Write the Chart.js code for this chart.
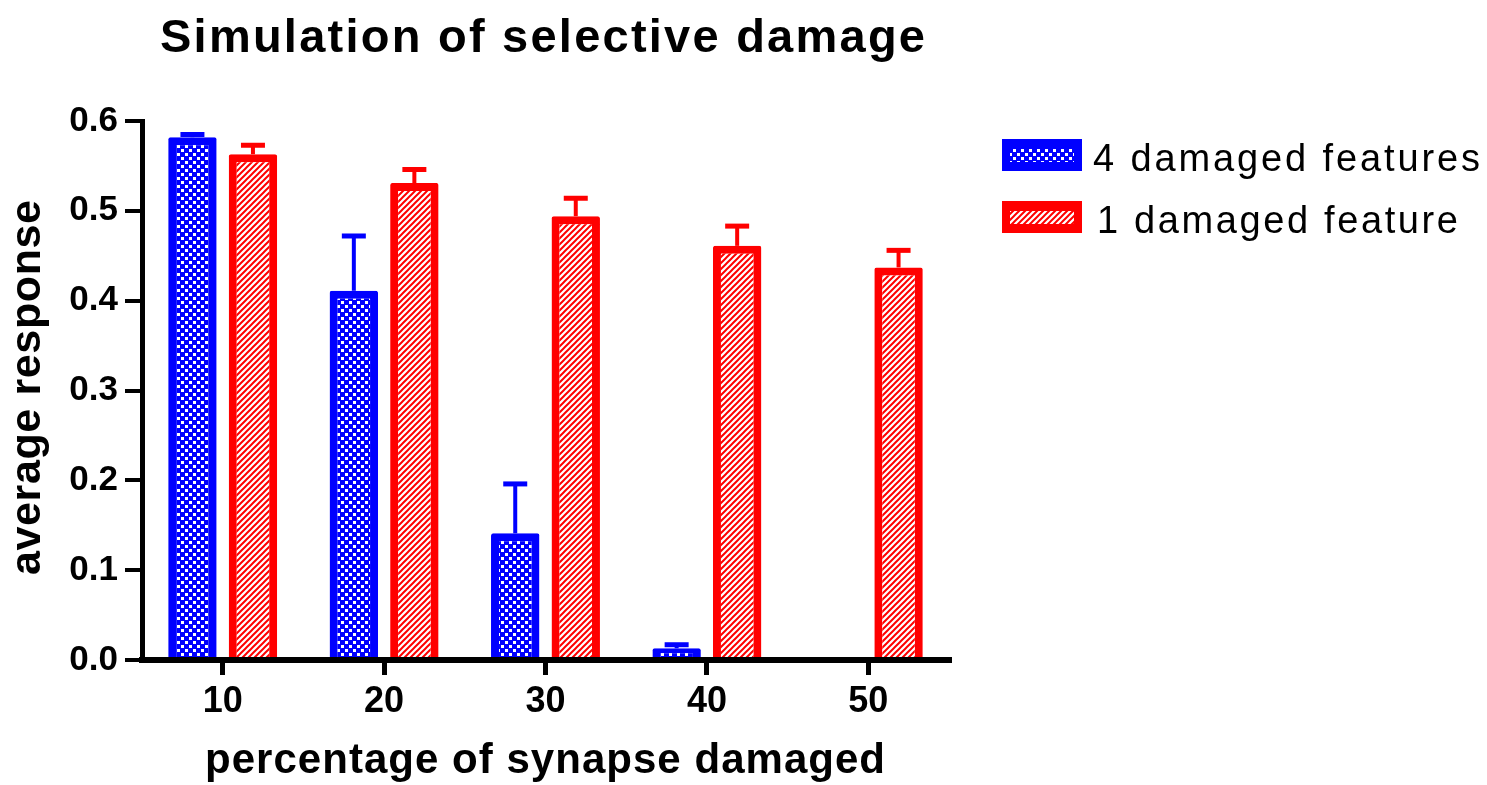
<!DOCTYPE html>
<html><head><meta charset="utf-8">
<script src="https://cdn.jsdelivr.net/npm/chart.js@4.4.1/dist/chart.umd.min.js"></script>
<style>html,body{margin:0;padding:0;background:#fff;overflow:hidden}canvas{display:block}</style>
</head><body>
<canvas id="c" width="1487" height="785"></canvas>
<script>
const categories = ['10', '20', '30', '40', '50'];
const fourDamaged = [0.582, 0.411, 0.141, 0.013, 0];
const fourDamagedErr = [0.003, 0.061, 0.055, 0.004, 0];
const oneDamaged = [0.563, 0.531, 0.494, 0.461, 0.437];
const oneDamagedErr = [0.010, 0.015, 0.020, 0.022, 0.019];
const yTickLabels = ['0.0', '0.1', '0.2', '0.3', '0.4', '0.5', '0.6'];
const seriesNames = ['4 damaged features', '1 damaged feature'];
const titleText = 'Simulation of selective damage';
const xTitle = 'percentage of synapse damaged';
const yTitle = 'average response';

const BLUE = '#0000ff', RED = '#ff0000';
const canvas = document.getElementById('c');
const mainCtx = canvas.getContext('2d');
function makePattern(kind) {
  const c = document.createElement('canvas');
  const g = c.getContext('2d');
  if (kind === 'check') {
    const s = 8; c.width = s; c.height = s;
    g.fillStyle = BLUE; g.fillRect(0, 0, s, s);
    g.fillStyle = '#fff'; g.fillRect(1, 1, 3, 3); g.fillRect(5, 5, 3, 3);
  } else {
    const s = 6; c.width = s; c.height = s;
    g.fillStyle = '#fff'; g.fillRect(0, 0, s, s);
    g.strokeStyle = RED; g.lineWidth = 2;
    g.beginPath();
    g.moveTo(0, s); g.lineTo(s, 0);
    g.moveTo(-1, 1); g.lineTo(1, -1);
    g.moveTo(s - 1, s + 1); g.lineTo(s + 1, s - 1);
    g.stroke();
  }
  return mainCtx.createPattern(c, 'repeat');
}
const checkPat = makePattern('check');
const hatchPat = makePattern('hatch');

const FONT = "'Liberation Sans', Arial, sans-serif";

function spacedText(ctx, text, x, y, width, align) {
  const n = [...text].length;
  if ('letterSpacing' in ctx) ctx.letterSpacing = '0px';
  const w0 = ctx.measureText(text).width;
  const sp = (width - w0) / (n - 1);
  const start = align === 'center' ? x - width / 2 : x;
  ctx.textAlign = 'left';
  if ('letterSpacing' in ctx) {
    ctx.letterSpacing = sp + 'px';
    ctx.fillText(text, start, y);
    ctx.letterSpacing = '0px';
  } else {
    ctx.fillText(text, start + (width - w0) / 2, y);
  }
}

const errorBars = {
  id: 'errorBars',
  afterDatasetsDraw(chart) {
    const ctx = chart.ctx, ys = chart.scales.y;
    chart.data.datasets.forEach((ds, i) => {
      const meta = chart.getDatasetMeta(i);
      meta.data.forEach((bar, j) => {
        const v = ds.data[j], e = ds.errors[j];
        if (!v || !e) return;
        const yt = ys.getPixelForValue(v + e);
        ctx.save();
        ctx.strokeStyle = ds.borderColor; ctx.lineCap = 'butt';
        ctx.lineWidth = 4;
        ctx.beginPath(); ctx.moveTo(bar.x, bar.y); ctx.lineTo(bar.x, yt); ctx.stroke();
        ctx.lineWidth = 5;
        ctx.beginPath(); ctx.moveTo(bar.x - 12, yt); ctx.lineTo(bar.x + 12, yt); ctx.stroke();
        ctx.restore();
      });
    });
  }
};

const texts = {
  id: 'texts',
  afterDraw(chart) {
    const ctx = chart.ctx;
    ctx.save();
    ctx.fillStyle = '#000';
    ctx.textBaseline = 'alphabetic';
    ctx.font = 'bold 47px ' + FONT;
    spacedText(ctx, titleText, 542.5, 52, 765, 'center');
    ctx.font = 'bold 42px ' + FONT;
    spacedText(ctx, xTitle, 545, 773, 680, 'center');
    ctx.save();
    ctx.translate(40, 387.5);
    ctx.rotate(-Math.PI / 2);
    ctx.font = 'bold 43px ' + FONT;
    spacedText(ctx, yTitle, 0, 0, 375, 'center');
    ctx.restore();
    const rows = [
      {y: 139, color: BLUE, pat: checkPat, tx: 1093, base: 171, w: 387},
      {y: 201, color: RED, pat: hatchPat, tx: 1097, base: 233, w: 361}
    ];
    rows.forEach((r, i) => {
      ctx.fillStyle = r.color;
      ctx.fillRect(1002, r.y, 80, 32);
      ctx.fillStyle = r.pat;
      ctx.fillRect(1010, r.y + 10, 64, 13);
      ctx.fillStyle = '#000';
      ctx.font = '38px ' + FONT;
      spacedText(ctx, seriesNames[i], r.tx, r.base, r.w, 'left');
    });
    ctx.restore();
  }
};

new Chart(canvas, {
  type: 'bar',
  data: {
    labels: categories,
    datasets: [
      { label: seriesNames[0], data: fourDamaged, errors: fourDamagedErr,
        backgroundColor: checkPat, borderColor: BLUE, borderWidth: 8,
        borderSkipped: 'start', borderRadius: 2,
        barPercentage: 0.8, categoryPercentage: 0.75 },
      { label: seriesNames[1], data: oneDamaged, errors: oneDamagedErr,
        backgroundColor: hatchPat, borderColor: RED, borderWidth: 8,
        borderSkipped: 'start', borderRadius: 2,
        barPercentage: 0.8, categoryPercentage: 0.75 }
    ]
  },
  options: {
    responsive: false, animation: false, devicePixelRatio: 1,
    layout: { padding: { left: 0, top: 121, right: 538, bottom: 0 } },
    plugins: { legend: { display: false }, title: { display: false }, tooltip: { enabled: false } },
    scales: {
      x: {
        type: 'category', offset: true,
        grid: { display: true, offset: false, drawOnChartArea: false, drawTicks: true,
                tickLength: 15, tickWidth: 5, lineWidth: 5, color: '#000', tickColor: '#000', z: 1 },
        border: { display: true, color: '#000', width: 6, z: 1 },
        ticks: { padding: 5, color: '#000', maxRotation: 0, autoSkip: false,
                 font: { family: FONT, size: 36, weight: 'bold' } },
        afterFit(s) { s.height = 125; }
      },
      y: {
        min: 0, max: 0.6,
        grid: { display: true, drawOnChartArea: false, drawTicks: true,
                tickLength: 17, tickWidth: 4, lineWidth: 4, color: '#000', tickColor: '#000', z: 1 },
        border: { display: true, color: '#000', width: 5, z: 1 },
        ticks: { stepSize: 0.1, padding: 7, color: '#000',
                 font: { family: FONT, size: 35, weight: 'bold' },
                 callback: (v, i) => yTickLabels[i] },
        afterFit(s) { s.width = 142; }
      }
    }
  },
  plugins: [errorBars, texts]
});
</script>
</body></html>
